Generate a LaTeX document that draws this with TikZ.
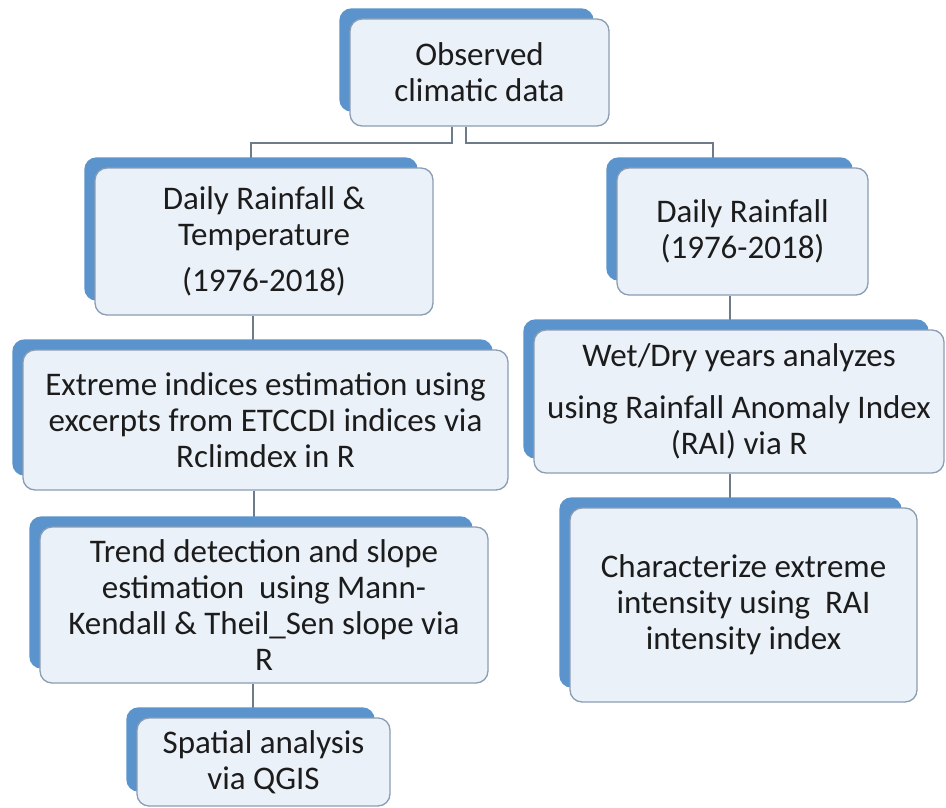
\documentclass[tikz,border=0pt]{standalone}
\usepackage{fontspec}
\setmainfont{Carlito}
\usetikzlibrary{calc, backgrounds}
\definecolor{backblue}{HTML}{5B93CC}
\definecolor{boxfill}{HTML}{EBF1F8}
\definecolor{boxline}{HTML}{8B9DB3}
\definecolor{linkgray}{HTML}{6E7C8A}
\definecolor{textdark}{HTML}{1C1C1C}

\begin{document}
\begin{tikzpicture}[
    x=1pt, y=-1pt,
    stepbox/.style 2 args={draw=boxline, line width=1.3pt, rounded corners=12pt, fill=boxfill, align=center, text=textdark, inner sep=0pt, minimum width=#1, minimum height=#2, font=\fontsize{33}{36}\selectfont},
    link/.style={draw=linkgray, line width=2pt},
]
\useasboundingbox (0,0) rectangle (946,808);

% left column
\node[stepbox={259pt}{107pt}] (obs) at (479.5,72.5) {Observed\\climatic data};
\node[stepbox={338pt}{147pt}] (drt) at (264,241.5) {Daily Rainfall \&\\Temperature\\[10pt](1976-2018)};
\node[stepbox={485pt}{140pt}] (ext) at (265.5,420) {Extreme indices estimation using\\excerpts from ETCCDI indices via\\Rclimdex in R};
\node[stepbox={448pt}{156pt}] (trend) at (264,605) {Trend detection and slope\\estimation\ \ using Mann-\\Kendall \& Theil\_Sen slope via\\R};
\node[stepbox={253pt}{88pt}] (spat) at (263.5,762) {Spatial analysis\\via QGIS};

% right column
\node[stepbox={251pt}{127pt}] (dr) at (742.5,231.5) {Daily Rainfall\\(1976-2018)};
\node[stepbox={410pt}{143pt}] (wet) at (739,401.5) {Wet/Dry years analyzes\\[16pt]using Rainfall Anomaly Index\\(RAI) via R};
\node[stepbox={347pt}{194pt}] (char) at (743.5,605) {Characterize extreme\\intensity using\ \ RAI\\intensity index};

\begin{scope}[on background layer]
% connectors
\draw[link] ([xshift=-28pt]obs.south) -- ++(0,16) -| ([xshift=-13pt]drt.north);
\draw[link] ([xshift=-14pt]obs.south) -- ++(0,16) -| ([xshift=-29.5pt]dr.north);
\foreach \a/\b/\s in {drt/ext/-11, ext/trend/-12, trend/spat/-11, dr/wet/-12.5, wet/char/-9}
  \draw[link] ([xshift=\s pt]\a.south) -- ([xshift=\s pt]\a.south |- \b.north);
% blue back plates
\foreach \n in {obs, drt, ext, trend, spat, dr, wet, char}
  \fill[backblue, rounded corners=12pt] ($(\n.north west)+(-10,-10)$) rectangle ($(\n.south east)+(-16,-15)$);
\end{scope}
\end{tikzpicture}
\end{document}
